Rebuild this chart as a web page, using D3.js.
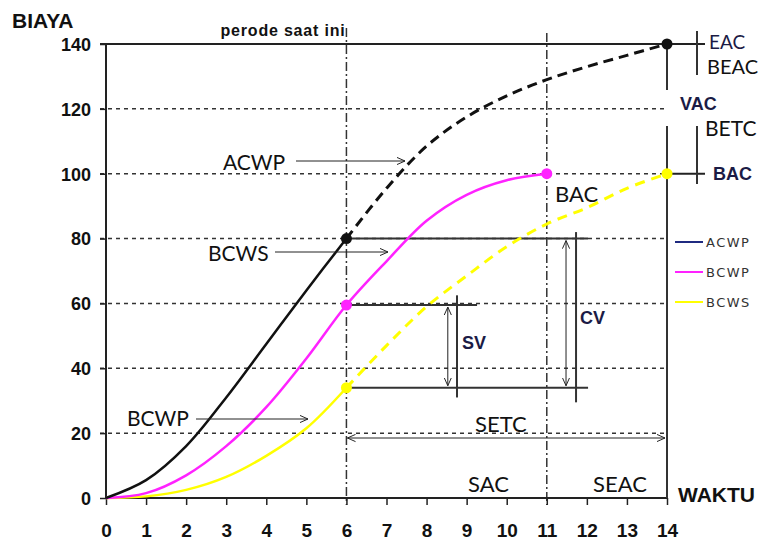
<!DOCTYPE html>
<html>
<head>
<meta charset="utf-8">
<script src="https://cdn.jsdelivr.net/npm/d3@7"></script>
<style>
  body { margin: 0; background: #fff; }
  svg { display: block; }
</style>
</head>
<body>
<div id="chart"></div>
<script>
// ---- data ----
var xTicks = [0, 1, 2, 3, 4, 5, 6, 7, 8, 9, 10, 11, 12, 13, 14];
var yTicks = [0, 20, 40, 60, 80, 100, 120, 140];
var gridValues = [20, 40, 60, 80, 100, 120];

// ACWP (actual) up to now, then forecast
var acwpX = [0, 1, 2, 3, 4, 5, 6];
var acwpY = [0, 5.5, 16, 31, 47.5, 64, 80];
var acwpFcX = [6, 7, 8, 9, 10, 11, 12, 13, 14];
var acwpFcY = [80, 95.5, 108.5, 117.5, 124, 129, 133, 136.5, 140];

// BCWP
var bcwpX = [0, 1, 2, 3, 4, 5, 6, 7, 8, 9, 10, 11];
var bcwpY = [0, 1.5, 7, 16, 28, 43, 59.5, 73, 85.5, 93.5, 98, 100];

// BCWS (planned) up to now, then rest of plan
var bcwsX = [0, 1, 2, 3, 4, 5, 6];
var bcwsY = [0, 0.5, 2.5, 6.5, 13, 21.5, 34];
var bcwsFcX = [6, 7, 8, 9, 10, 11, 12, 13, 14];
var bcwsFcY = [34, 47, 59, 68.5, 77.5, 84.5, 89.5, 95.5, 100];

var legendNames = ['ACWP', 'BCWP', 'BCWS'];
var legendColors = ['#1f2a80', '#ff22ff', '#ffff00'];

var tNow = 6, tBac = 11, tEac = 14;

// ---- setup ----
var svgwidth = 767;
var svgheight = 542;

var svg = d3.select('#chart')
            .append('svg')
            .attr('width', svgwidth)
            .attr('height', svgheight);

var x = d3.scaleLinear().domain([0, 14]).range([106, 667]);
var y = d3.scaleLinear().domain([0, 140]).range([498, 44]);

var defs = svg.append('defs');
defs.append('marker')
    .attr('id', 'arr')
    .attr('viewBox', '0 0 10 10')
    .attr('refX', 9).attr('refY', 5)
    .attr('markerWidth', 9).attr('markerHeight', 9)
    .attr('markerUnits', 'userSpaceOnUse')
    .attr('orient', 'auto-start-reverse')
    .append('path')
    .attr('d', 'M0,1 L9,5 L0,9')
    .attr('fill', 'none')
    .attr('stroke', '#222')
    .attr('stroke-width', 1.1);

var boldFont = "'Liberation Sans', Arial, sans-serif";
var labFont = "Lato, 'Open Sans', sans-serif";
var navy = '#1b1b45';

// gridlines
svg.append('g')
    .selectAll('line')
    .data(gridValues)
    .join('line')
    .attr('x1', x(0) - 6).attr('x2', x(14))
    .attr('y1', d => y(d)).attr('y2', d => y(d))
    .attr('stroke', '#333')
    .attr('stroke-width', 1.5)
    .attr('stroke-dasharray', '4,4');

// current period and BAC time lines (dash-dot)
svg.append('line')
    .attr('x1', x(tNow)).attr('x2', x(tNow))
    .attr('y1', 28).attr('y2', y(0) + 7)
    .attr('stroke', '#333').attr('stroke-width', 1.5)
    .attr('stroke-dasharray', '9,3,2,3');
svg.append('line')
    .attr('x1', x(tBac)).attr('x2', x(tBac))
    .attr('y1', 33).attr('y2', y(0) + 7)
    .attr('stroke', '#333').attr('stroke-width', 1.5)
    .attr('stroke-dasharray', '9,3,2,3');

// axes
var yaxis = d3.axisLeft(y).tickValues(yTicks).tickSize(6).tickFormat(d3.format('d'));
var gy = svg.append('g').attr('transform', 'translate(' + x(0) + ',0)').call(yaxis);
gy.select('.domain').remove();
gy.selectAll('line').attr('stroke', '#222').attr('stroke-width', 1.5);
gy.selectAll('text')
    .attr('x', -15)
    .attr('dy', '0.35em')
    .style('font-family', boldFont)
    .style('font-weight', 'bold')
    .style('font-size', '18px')
    .attr('fill', '#111');

var xaxis = d3.axisBottom(x).tickValues(xTicks).tickSize(7).tickFormat(d3.format('d'));
var gx = svg.append('g').attr('transform', 'translate(0,' + y(0) + ')').call(xaxis);
gx.select('.domain').remove();
gx.selectAll('line').attr('stroke', '#222').attr('stroke-width', 1.5);
gx.selectAll('text')
    .attr('y', 26)
    .attr('dy', '0.71em')
    .style('font-family', boldFont)
    .style('font-weight', 'bold')
    .style('font-size', '19px')
    .attr('fill', '#111');

// axis lines
svg.append('line')
    .attr('x1', x(0)).attr('x2', x(0)).attr('y1', y(140)).attr('y2', y(0))
    .attr('stroke', '#222').attr('stroke-width', 2);
svg.append('line')
    .attr('x1', x(0)).attr('x2', x(14)).attr('y1', y(0)).attr('y2', y(0))
    .attr('stroke', '#222').attr('stroke-width', 2);

// top line at EAC level
svg.append('line')
    .attr('x1', x(0) - 6).attr('x2', x(14) + 38).attr('y1', y(140)).attr('y2', y(140))
    .attr('stroke', '#222').attr('stroke-width', 2);
// BAC level tick
svg.append('line')
    .attr('x1', x(14)).attr('x2', x(14) + 38).attr('y1', y(100)).attr('y2', y(100))
    .attr('stroke', '#222').attr('stroke-width', 2);

// right brackets
var brk = [
    [x(14), y(140), 90],
    [x(14), 126, y(0)],
    [x(14) + 30, 31, 75],
    [x(14) + 30, 126, 184]
];
svg.append('g')
    .selectAll('line')
    .data(brk)
    .join('line')
    .attr('x1', d => d[0]).attr('x2', d => d[0])
    .attr('y1', d => d[1]).attr('y2', d => d[2])
    .attr('stroke', '#333').attr('stroke-width', 2);

// solid reference lines at now
svg.append('line')
    .attr('x1', x(tNow)).attr('x2', x(12.03)).attr('y1', y(80)).attr('y2', y(80))
    .attr('stroke', '#333').attr('stroke-width', 2);
svg.append('line')
    .attr('x1', x(tNow)).attr('x2', x(9.26)).attr('y1', y(59.5)).attr('y2', y(59.5))
    .attr('stroke', '#333').attr('stroke-width', 2);
svg.append('line')
    .attr('x1', x(tNow)).attr('x2', x(12.03)).attr('y1', y(34)).attr('y2', y(34))
    .attr('stroke', '#333').attr('stroke-width', 2);

// SV and CV brackets
svg.append('line')
    .attr('x1', x(8.76)).attr('x2', x(8.76)).attr('y1', y(62.5)).attr('y2', y(31))
    .attr('stroke', '#333').attr('stroke-width', 2);
svg.append('line')
    .attr('x1', x(11.73)).attr('x2', x(11.73)).attr('y1', y(82)).attr('y2', y(29.5))
    .attr('stroke', '#333').attr('stroke-width', 2);
svg.append('line')
    .attr('x1', x(8.53)).attr('x2', x(8.53)).attr('y1', y(59.5) + 2).attr('y2', y(34) - 2)
    .attr('stroke', '#222').attr('stroke-width', 1)
    .attr('marker-start', 'url(#arr)').attr('marker-end', 'url(#arr)');
svg.append('line')
    .attr('x1', x(11.48)).attr('x2', x(11.48)).attr('y1', y(80) + 2).attr('y2', y(34) - 2)
    .attr('stroke', '#222').attr('stroke-width', 1)
    .attr('marker-start', 'url(#arr)').attr('marker-end', 'url(#arr)');

// SETC arrow
svg.append('line')
    .attr('x1', x(tNow) + 1).attr('x2', x(tEac) - 2).attr('y1', 438).attr('y2', 438)
    .attr('stroke', '#222').attr('stroke-width', 1)
    .attr('marker-start', 'url(#arr)').attr('marker-end', 'url(#arr)');

// ---- curves ----
function pts(xs, ys) { return xs.map((d, i) => [d, ys[i]]); }
var line = d3.line().x(d => x(d[0])).y(d => y(d[1])).curve(d3.curveCatmullRom.alpha(0.5));

svg.append('path').datum(pts(acwpFcX, acwpFcY)).attr('d', line)
    .attr('fill', 'none').attr('stroke', '#111').attr('stroke-width', 3)
    .attr('stroke-dasharray', '10,6');
svg.append('path').datum(pts(bcwsFcX, bcwsFcY)).attr('d', line)
    .attr('fill', 'none').attr('stroke', '#ffff00').attr('stroke-width', 3)
    .attr('stroke-dasharray', '10,7');
svg.append('path').datum(pts(bcwsX, bcwsY)).attr('d', line)
    .attr('fill', 'none').attr('stroke', '#ffff00').attr('stroke-width', 2.5);
svg.append('path').datum(pts(bcwpX, bcwpY)).attr('d', line)
    .attr('fill', 'none').attr('stroke', '#ff22ff').attr('stroke-width', 2.5);
svg.append('path').datum(pts(acwpX, acwpY)).attr('d', line)
    .attr('fill', 'none').attr('stroke', '#111').attr('stroke-width', 2.5);

// dots
var dots = [
    [tNow, acwpY[acwpY.length - 1], '#111'],
    [tNow, bcwpY[6], '#ff22ff'],
    [tNow, bcwsY[bcwsY.length - 1], '#ffff00'],
    [tBac, bcwpY[bcwpY.length - 1], '#ff22ff'],
    [tEac, acwpFcY[acwpFcY.length - 1], '#111'],
    [tEac, bcwsFcY[bcwsFcY.length - 1], '#ffff00']
];
svg.append('g')
    .selectAll('circle')
    .data(dots)
    .join('circle')
    .attr('cx', d => x(d[0]))
    .attr('cy', d => y(d[1]))
    .attr('r', 5.5)
    .attr('fill', d => d[2]);

// ---- annotation arrows ----
var pointers = [[296, 405, 161], [275, 388, 252], [196, 308, 419]];
svg.append('g')
    .selectAll('line')
    .data(pointers)
    .join('line')
    .attr('x1', d => d[0]).attr('x2', d => d[1])
    .attr('y1', d => d[2]).attr('y2', d => d[2])
    .attr('stroke', '#222').attr('stroke-width', 1)
    .attr('marker-end', 'url(#arr)');

// ---- texts ----
function txt(s, px, py, size, weight, color, font, anchor, ls) {
    svg.append('text')
        .attr('x', px).attr('y', py)
        .text(s)
        .style('font-family', font)
        .style('font-size', size + 'px')
        .style('font-weight', weight)
        .style('text-anchor', anchor || 'start')
        .style('letter-spacing', ls || '0px')
        .attr('fill', color);
}

txt('BIAYA', 12, 28, 21, 'bold', '#111', boldFont);
txt('WAKTU', 678, 502, 21, 'bold', '#111', boldFont);
txt('perode saat ini', 283, 36, 16, 'bold', '#111', boldFont, 'middle', '0.8px');

txt('ACWP', 223, 170, 21, 'normal', '#111', labFont);
txt('BCWS', 208, 261, 21, 'normal', '#111', labFont);
txt('BCWP', 127, 426, 21, 'normal', '#111', labFont);
txt('BAC', 555, 202, 22, 'normal', '#111', labFont);
txt('SETC', 475, 432, 22, 'normal', '#111', labFont);
txt('SAC', 468, 492, 22, 'normal', '#111', labFont);
txt('SEAC', 593, 492, 22, 'normal', '#111', labFont);

txt('SV', 462, 349, 18, 'bold', navy, boldFont);
txt('CV', 580, 324, 18, 'bold', navy, boldFont);

txt('EAC', 709, 49, 19, 'normal', navy, labFont);
txt('BEAC', 707, 74, 20, 'normal', '#111', labFont);
txt('VAC', 680, 110, 18, 'bold', navy, boldFont);
txt('BETC', 705, 136, 21, 'normal', '#111', labFont);
txt('BAC', 713, 180, 18, 'bold', navy, boldFont);

// ---- legend ----
var lg = svg.append('g')
    .selectAll('g')
    .data(legendNames)
    .join('g')
    .attr('transform', (d, i) => 'translate(675,' + (242 + i * 30) + ')');
lg.append('line')
    .attr('x1', 0).attr('x2', 28)
    .attr('stroke', (d, i) => legendColors[i])
    .attr('stroke-width', 2);
lg.append('text')
    .attr('x', 31).attr('dy', '0.35em')
    .text(d => d)
    .style('font-family', "'DejaVu Sans', sans-serif")
    .style('font-size', '13px')
    .style('letter-spacing', '1.5px')
    .attr('fill', '#333');
</script>
</body>
</html>
